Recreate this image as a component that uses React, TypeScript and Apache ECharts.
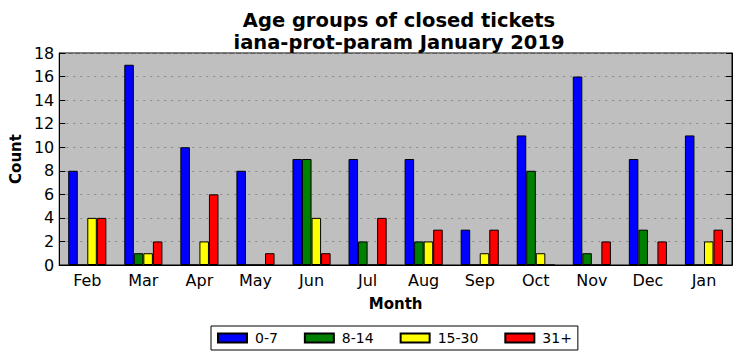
import React, { useEffect, useRef } from "react";
import * as echarts from "echarts";

const months = ["Feb", "Mar", "Apr", "May", "Jun", "Jul", "Aug", "Sep", "Oct", "Nov", "Dec", "Jan"];
const age0to7 = [8, 17, 10, 8, 9, 9, 9, 3, 11, 16, 9, 11];
const age8to14 = [0, 1, 0, 0, 9, 2, 2, 0, 8, 1, 3, 0];
const age15to30 = [4, 1, 2, 0, 4, 0, 2, 1, 1, 0, 0, 2];
const age31plus = [4, 2, 6, 1, 1, 4, 3, 3, 0, 2, 2, 3];
const seriesNames = ["0-7", "8-14", "15-30", "31+"];
const seriesColors = ["#0000ff", "#008000", "#ffff00", "#ff0000"];

export default function App() {
  const ref = useRef<HTMLDivElement>(null);
  useEffect(() => {
    if (!ref.current) return;
    const chart = echarts.init(ref.current, null, { renderer: "svg" });
    const font = "DejaVu Sans";
    const values = [age0to7, age8to14, age15to30, age31plus];
    chart.setOption({
      animation: false,
      textStyle: { fontFamily: font },
      title: {
        text: "Age groups of closed tickets\niana-prot-param January 2019",
        left: 394,
        textAlign: "center",
        top: 4,
        textStyle: { fontFamily: font, fontSize: 19.5, fontWeight: "bold", color: "#000", lineHeight: 22 },
      },
      grid: {
        left: 56,
        right: 9,
        top: 53,
        bottom: 96,
        show: true,
        backgroundColor: "#bfbfbf",
        borderColor: "#000",
        borderWidth: 1,
        containLabel: false,
      },
      legend: {
        left: 211,
        top: 326,
        data: seriesNames,
        itemWidth: 29,
        itemHeight: 9,
        itemGap: 26,
        padding: [5, 6, 5, 6],
        borderColor: "#000",
        borderWidth: 1,
        borderRadius: 0,
        icon: "rect",
        textStyle: { fontFamily: font, fontSize: 14, color: "#000", padding: [0, 0, 0, 3] },
      },
      xAxis: [
        {
          type: "category",
          data: months,
          name: "Month",
          nameLocation: "middle",
          nameGap: 31,
          nameTextStyle: { fontFamily: font, fontSize: 15, fontWeight: "bold", color: "#000" },
          axisLine: { lineStyle: { color: "#000" } },
          axisTick: { inside: true, length: 6, alignWithLabel: true, lineStyle: { color: "#000" } },
          axisLabel: { fontFamily: font, fontSize: 16, color: "#000", margin: 7 },
          splitLine: { show: false },
        },
        {
          type: "category",
          data: months,
          position: "top",
          axisLine: { lineStyle: { color: "#000" } },
          axisTick: { inside: true, length: 6, alignWithLabel: true, lineStyle: { color: "#000" } },
          axisLabel: { show: false },
        },
      ],
      yAxis: [
        {
          type: "value",
          min: 0,
          max: 18,
          interval: 2,
          name: "Count",
          nameLocation: "middle",
          nameGap: 32,
          nameTextStyle: { fontFamily: font, fontSize: 15, fontWeight: "bold", color: "#000" },
          axisLine: { show: true, lineStyle: { color: "#000" } },
          axisTick: { show: true, inside: true, length: 6, lineStyle: { color: "#000" } },
          axisLabel: { fontFamily: font, fontSize: 16, color: "#000", margin: 5 },
          splitLine: { show: true, lineStyle: { color: "#8a8a8a", type: [2, 5], width: 1 } },
        },
        {
          type: "value",
          min: 0,
          max: 18,
          interval: 2,
          position: "right",
          axisLine: { show: true, lineStyle: { color: "#000" } },
          axisTick: { show: true, inside: true, length: 6, lineStyle: { color: "#000" } },
          axisLabel: { show: false },
          splitLine: { show: false },
        },
      ],
      series: seriesNames.map((name, i) => ({
        name,
        type: "bar",
        data: values[i],
        barWidth: "17%",
        barGap: "0%",
        itemStyle: { color: seriesColors[i], borderColor: "#000", borderWidth: 1 },
      })),
    });
    return () => chart.dispose();
  }, []);
  return <div ref={ref} style={{ width: 741, height: 361, position: "absolute", left: 0, top: 0 }} />;
}
